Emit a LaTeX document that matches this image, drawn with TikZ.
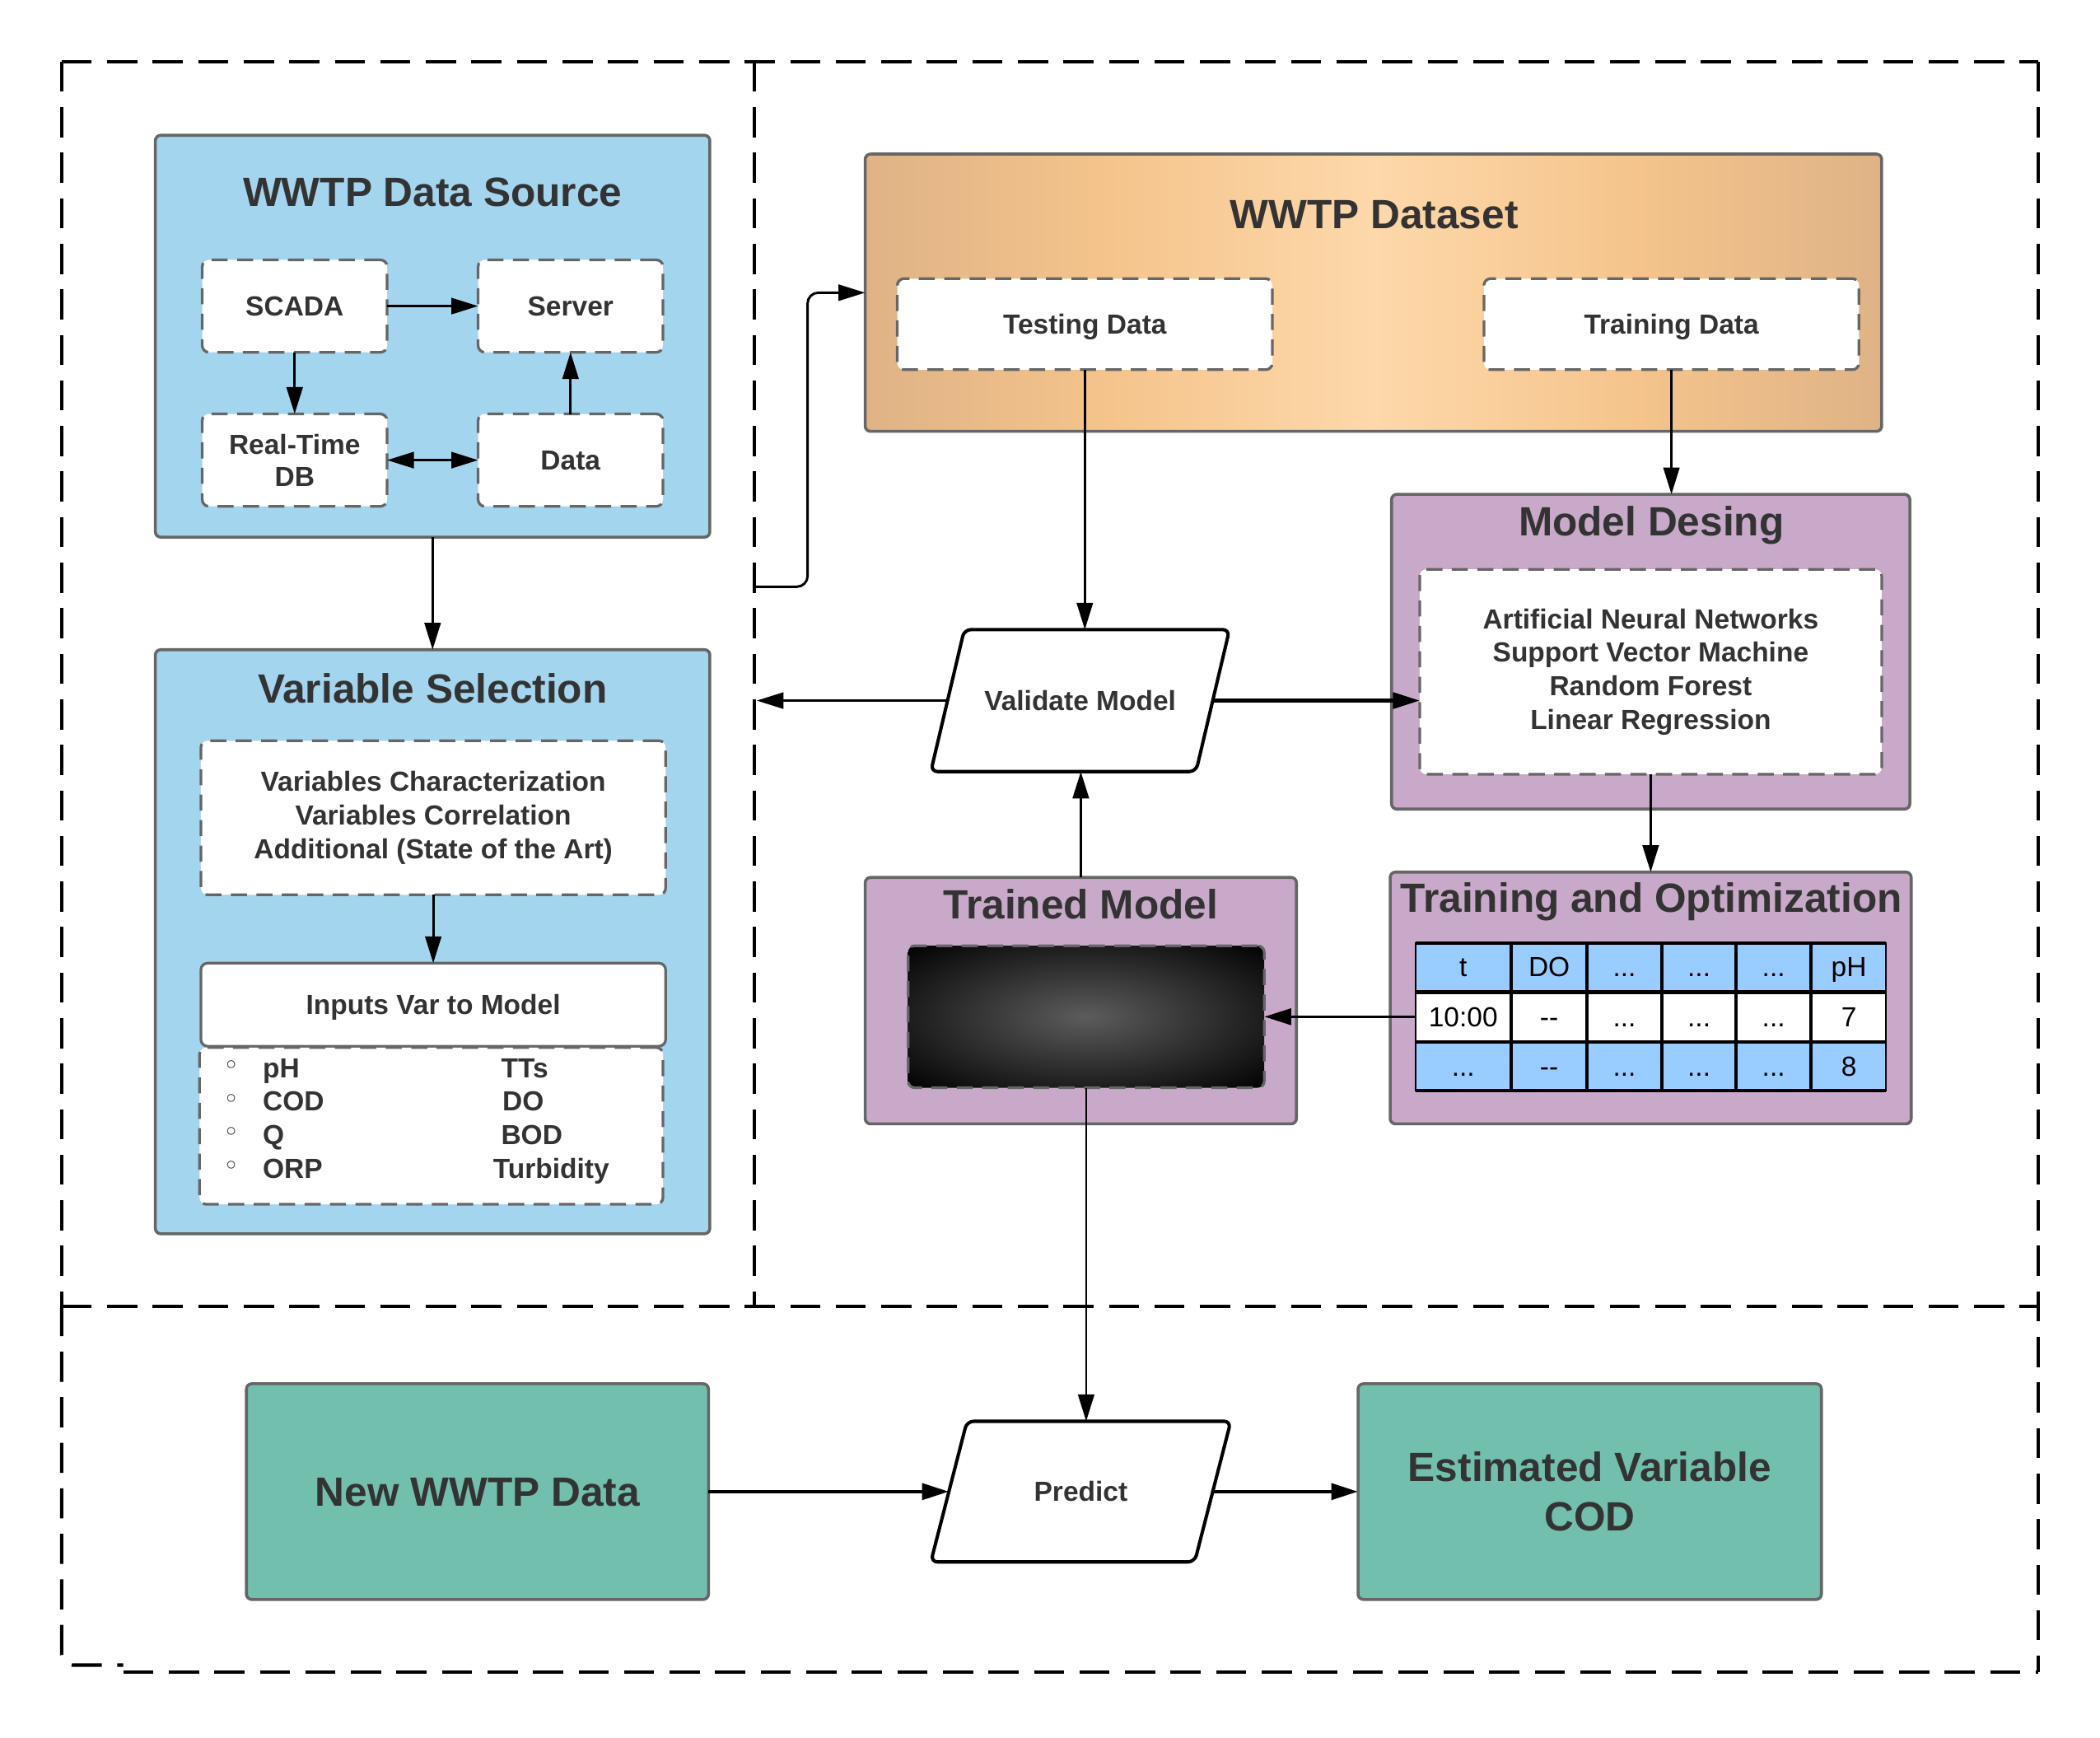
\documentclass[tikz,border=0pt]{standalone}
\usepackage{fontspec}
\setmainfont{Liberation Sans}
\newfontfamily\dejavu{DejaVu Sans}
\usetikzlibrary{arrows.meta,matrix}
\definecolor{bgray}{HTML}{666666}
\definecolor{txt}{HTML}{333333}
\definecolor{lblue}{HTML}{A4D5EE}
\definecolor{lpurple}{HTML}{C8A9C9}
\definecolor{lteal}{HTML}{72BFAE}
\definecolor{tblue}{HTML}{99CCFF}
\definecolor{dscenter}{HTML}{FDD8AA}
\definecolor{dsmid}{HTML}{F5C48C}
\definecolor{dsedge}{HTML}{DFB386}
\definecolor{tmcenter}{HTML}{5C5C5C}
\pgfdeclarehorizontalshading{dsshade}{100bp}{color(0bp)=(dsedge); color(25bp)=(dsedge); color(37bp)=(dsmid); color(50bp)=(dscenter); color(63bp)=(dsmid); color(75bp)=(dsedge); color(100bp)=(dsedge)}
\pgfdeclareradialshading{tmshade}{\pgfpoint{0bp}{0bp}}{color(0bp)=(tmcenter); color(36bp)=(black); color(50bp)=(black)}
\tikzset{
  ctr/.style={draw=bgray, line width=2.2pt, rounded corners=4pt, inner sep=0pt, outer sep=0pt},
  ttl/.style={font=\bfseries\fontsize{30.5}{34}\selectfont, text=txt, text height=21.8pt, text depth=0pt, inner sep=0pt},
  inb/.style={draw=bgray, line width=2pt, dash pattern=on 12pt off 7pt, fill=white, rounded corners=5pt, inner sep=0pt, outer sep=0pt, align=center, font=\bfseries\fontsize{20.6}{25}\selectfont, text=txt},
  sline/.style={text height=14.8pt, text depth=0pt},
  itm/.style={font=\bfseries\fontsize{20.6}{24}\selectfont, text=txt, text height=14.8pt, text depth=0pt, inner sep=0pt, anchor=west},
  bul/.style={font=\dejavu\fontsize{20}{22}\selectfont, text=txt, inner sep=0pt},
  conn/.style={line width=1.8pt, draw=black},
  arr/.style={conn, -{Triangle[length=20pt,width=12pt]}},
  dbl/.style={conn, {Triangle[length=20pt,width=12pt]}-{Triangle[length=20pt,width=12pt]}},
  framedash/.style={line width=2.5pt, dash pattern=on 22.5pt off 11.5pt},
  para/.style={line width=2.5pt, rounded corners=5pt},
  ptext/.style={minimum width=198pt, minimum height=106pt, inner sep=0pt, outer sep=0pt, font=\bfseries\fontsize{20.6}{24}\selectfont, text=txt, text height=14.8pt, text depth=0pt},
}
\begin{document}
\begin{tikzpicture}[x=1pt, y=1pt]
\useasboundingbox (0,0) rectangle (1568,-1297);

% ---------- dashed frames ----------
\draw[framedash] (46,-46) -- (1522,-46);
\draw[framedash] (46,-46) -- (46,-975);
\draw[framedash, rounded corners=8pt] (46,-975) -- (46,-1243) -- (92,-1243);
\draw[framedash] (92,-1248) -- (1522,-1248);
\draw[framedash] (1522,-46) -- (1522,-1248);
\draw[framedash] (563,-46) -- (563,-975);
\draw[framedash] (46,-975) -- (1522,-975);

% ---------- WWTP Data Source ----------
\node[ctr, fill=lblue, minimum width=414pt, minimum height=300pt] (src) at (323,-251) {};
\node[ttl] (srct) at (323,-143) {WWTP Data Source};
\node[inb, sline, minimum width=138pt, minimum height=69pt] (scada) at (220,-228.5) {SCADA};
\node[inb, sline, minimum width=138pt, minimum height=69pt] (server) at (426,-228.5) {Server};
\node[inb, minimum width=138pt, minimum height=69pt, font=\bfseries\fontsize{20.6}{24}\selectfont] (rtdb) at (220,-343.5) {Real-Time\\DB};
\node[inb, sline, minimum width=138pt, minimum height=69pt] (data) at (426,-343.5) {Data};
\draw[arr] (scada.east) -- (server.west);
\draw[arr] (scada.south) -- (rtdb.north);
\draw[arr] (data.north) -- (server.south);
\draw[dbl] (rtdb.east) -- (data.west);

% ---------- Variable Selection ----------
\node[ctr, fill=lblue, minimum width=414pt, minimum height=436pt] (varsel) at (323,-703) {};
\node[ttl] (varselt) at (323,-514) {Variable Selection};
\node[inb, minimum width=347pt, minimum height=115pt] (vc) at (323.5,-610.5) {Variables Characterization\\Variables Correlation\\Additional (State of the Art)};
\node[inb, sline, solid, minimum width=347pt, minimum height=62pt] (inputs) at (323.5,-750) {Inputs Var to Model};
\node[inb, minimum width=346pt, minimum height=117pt] (list) at (322,-840.5) {};
\node[bul] (b1) at (173,-797) {◦};
\node[bul] (b2) at (173,-822) {◦};
\node[bul] (b3) at (173,-847) {◦};
\node[bul] (b4) at (173,-872) {◦};
\node[itm] (i1) at (196,-797) {pH};
\node[itm] (i2) at (196,-822) {COD};
\node[itm] (i3) at (196,-847) {Q};
\node[itm] (i4) at (196,-872) {ORP};
\node[itm] (j1) at (374,-797) {TTs};
\node[itm] (j2) at (375,-822) {DO};
\node[itm] (j3) at (374,-847) {BOD};
\node[itm] (j4) at (368,-872) {Turbidity};
\draw[arr] (src.south) -- (varsel.north);
\draw[arr] (vc.south) -- (inputs.north);

% ---------- WWTP Dataset ----------
\node[ctr, shade, shading=dsshade, minimum width=759pt, minimum height=207pt] (dataset) at (1025.5,-218.5) {};
\node[ttl] (datasett) at (1026,-160) {WWTP Dataset};
\node[inb, sline, minimum width=280pt, minimum height=68pt] (testing) at (810,-242) {Testing Data};
\node[inb, sline, minimum width=280pt, minimum height=68pt] (training) at (1248,-242) {Training Data};

% ---------- Model Desing ----------
\node[ctr, fill=lpurple, minimum width=387pt, minimum height=235pt] (md) at (1232.5,-486.5) {};
\node[ttl] (mdt) at (1233,-389) {Model Desing};
\node[inb, minimum width=345pt, minimum height=153pt] (mdin) at (1232.5,-501.5) {Artificial Neural Networks\\Support Vector Machine\\Random Forest\\Linear Regression};

% ---------- Training and Optimization ----------
\node[ctr, fill=lpurple, minimum width=389pt, minimum height=188pt] (to) at (1232.5,-745) {};
\node[ttl] (tot) at (1233,-670) {Training and Optimization};
\matrix (tab) at (1232.5,-759) [matrix of nodes, inner sep=0pt, outer sep=0pt, column sep=0pt, row sep=0pt,
  nodes={draw=black, line width=1.2pt, minimum height=36pt, inner sep=0pt, outer sep=0pt, anchor=center, fill=white,
         font=\fontsize{20.6}{24}\selectfont, text height=14.8pt, text depth=0pt},
  column 1/.style={nodes={minimum width=71pt}},
  column 2/.style={nodes={minimum width=55pt}},
  column 3/.style={nodes={minimum width=55pt}},
  column 4/.style={nodes={minimum width=54pt}},
  column 5/.style={nodes={minimum width=55pt}},
  column 6/.style={nodes={minimum width=55pt}},
  row 1/.style={nodes={fill=tblue}},
  row 3/.style={nodes={fill=tblue}}]
{
  t & DO & ... & ... & ... & pH \\
  10:00 & -{}- & ... & ... & ... & 7 \\
  ... & -{}- & ... & ... & ... & 8 \\
};
\draw[line width=2.5pt] (tab-1-1.north west) -- (tab-1-6.north east);
\draw[line width=2.5pt] (tab-2-1.north west) -- (tab-2-6.north east);
\draw[line width=2.5pt] (tab-3-1.south west) -- (tab-3-6.south east);

% ---------- Trained Model ----------
\node[ctr, fill=lpurple, minimum width=322pt, minimum height=184pt] (tm) at (807,-747) {};
\node[ttl] (tmt) at (807,-675) {Trained Model};
\node[draw=bgray, line width=2pt, dash pattern=on 12pt off 7pt, rounded corners=5pt, shade, shading=tmshade, minimum width=266pt, minimum height=106pt, inner sep=0pt, outer sep=0pt] (tmin) at (811,-759) {};

% ---------- Validate Model ----------
\node[ptext] (validate) at (806.5,-523) {Validate Model};
\draw[para] ([xshift=12.5pt]validate.north west) -- ([xshift=12.5pt]validate.north east) -- ([xshift=-12.5pt]validate.south east) -- ([xshift=-12.5pt]validate.south west) -- cycle;

% ---------- bottom ----------
\node[ctr, fill=lteal, minimum width=345pt, minimum height=161pt, font=\bfseries\fontsize{30.5}{34}\selectfont, text=txt, text height=21.8pt, text depth=0pt] (nd) at (356.5,-1113.5) {New WWTP Data};
\node[ctr, fill=lteal, minimum width=346pt, minimum height=161pt, align=center, font=\bfseries\fontsize{30.5}{37}\selectfont, text=txt] (est) at (1187,-1113.5) {Estimated Variable\\COD};
\node[ptext, minimum width=197pt, minimum height=105pt] (predict) at (807,-1113.5) {Predict};
\draw[para] ([xshift=13.5pt]predict.north west) -- ([xshift=13.5pt]predict.north east) -- ([xshift=-13.5pt]predict.south east) -- ([xshift=-13.5pt]predict.south west) -- cycle;

% ---------- connectors ----------
\coordinate (c1) at (563,-438);
\coordinate (c2) at (565,-523);
\draw[arr, rounded corners=8pt] (c1) -- ++(40,0) |- (dataset.west);
\draw[arr] (validate.west) -- (c2);
\draw[arr, line width=1.6pt] (testing.south) -- (testing.south |- validate.north);
\draw[arr, line width=1.6pt] (training.south) -- (training.south |- md.north);
\draw[arr, line width=2.6pt] (validate.east) -- (validate.east -| mdin.west);
\draw[arr] (mdin.south) -- (mdin.south |- to.north);
\draw[arr, line width=2.2pt] (tab.west) -- (tmin.east);
\draw[arr] (tm.north) -- (tm.north |- validate.south);
\draw[arr, line width=1.6pt] (tmin.south) -- (tmin.south |- predict.north);
\draw[arr, line width=2.8pt] (nd.east) -- (predict.west);
\draw[arr, line width=2.8pt] (predict.east) -- (est.west);
\end{tikzpicture}
\end{document}
